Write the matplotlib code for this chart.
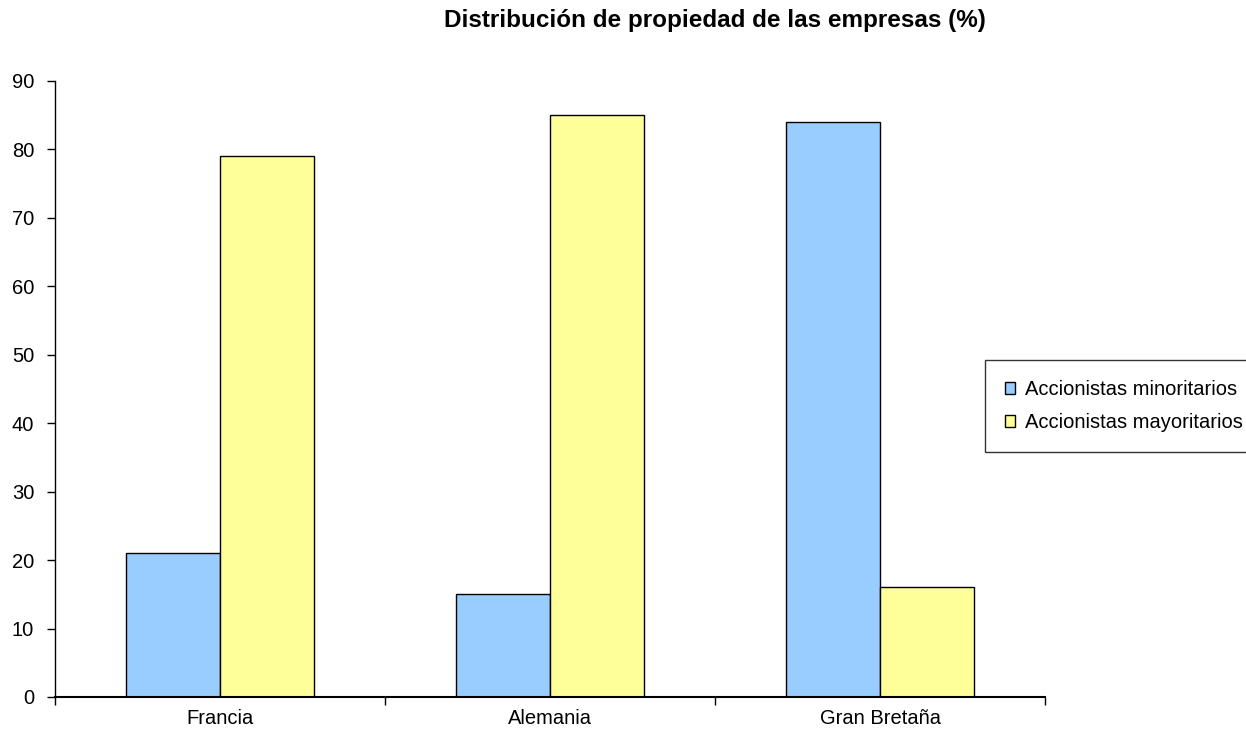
import matplotlib
matplotlib.use("Agg")
import matplotlib.pyplot as plt
import numpy as np

plt.rcParams['font.family'] = ['Liberation Sans', 'DejaVu Sans']

categories = ["Francia", "Alemania", "Gran Bretaña"]
minoritarios = [21, 15, 84]
mayoritarios = [79, 85, 16]
series_names = ["Accionistas minoritarios", "Accionistas mayoritarios"]
colors = ["#99CCFF", "#FFFF99"]
title = "Distribución de propiedad de las empresas (%)"

fig = plt.figure(figsize=(12.46, 7.35), dpi=100)
ax = fig.add_axes([55/1246, 1-697/735, (1045-55)/1246, (697-80.7)/735])

x = np.arange(len(categories))
w = 0.285
ax.bar(x - w/2, minoritarios, w, color=colors[0], edgecolor='black', linewidth=1, label=series_names[0])
ax.bar(x + w/2, mayoritarios, w, color=colors[1], edgecolor='black', linewidth=1, label=series_names[1])

ax.set_xlim(-0.5, len(categories) - 0.5)
ax.set_ylim(0, 90)
ax.set_yticks(np.arange(0, 91, 10))
ax.set_xticks(x)
ax.set_xticklabels(categories, fontsize=14.5)
ax.tick_params(axis='x', length=0, pad=9)
ax.set_xticks(np.arange(-0.5, len(categories)), minor=True)
ax.tick_params(axis='x', which='minor', length=6, width=1)
ax.tick_params(axis='y', length=6, width=1, labelsize=14.5, pad=9)
for s in ['top', 'right']:
    ax.spines[s].set_visible(False)
ax.spines['left'].set_linewidth(1)
ax.spines['bottom'].set_linewidth(1.5)

fig.text(715/1246, 1-20/735, title, ha='center', va='center', fontsize=17.5, fontweight='bold')

leg = fig.legend(loc='center left', bbox_to_anchor=(985/1246, 1-406/735), fontsize=14.5,
                 frameon=True, fancybox=False, edgecolor='black', handlelength=0.5, handleheight=0.5,
                 handletextpad=0.5, labelspacing=0.7, borderpad=1.0, borderaxespad=0)
leg.get_frame().set_linewidth(1)

fig.savefig("out.png", dpi=100)
